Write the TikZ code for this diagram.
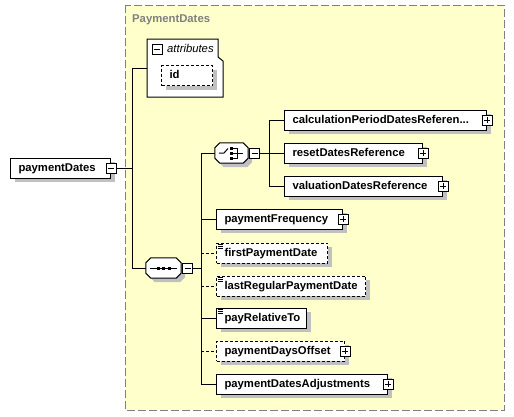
\documentclass[tikz,border=0pt]{standalone}
\usepackage{fontspec}
\setmainfont{Liberation Sans}
\usetikzlibrary{calc,shadows}
\definecolor{bgyellow}{HTML}{FFFFCC}
\definecolor{shgray}{HTML}{C0C0C0}
\definecolor{frgray}{HTML}{808080}
\tikzset{
  elem/.style={draw=black, fill=white, line width=1pt, anchor=west,
    minimum height=20pt, inner xsep=8pt, inner ysep=0pt,
    text height=8pt, text depth=2pt, align=left, text width=#1,
    font=\fontsize{11.3}{13}\selectfont\bfseries,
    general shadow={fill=shgray, shadow xshift=4pt, shadow yshift=-4pt}},
  optional/.style={dash pattern=on 3pt off 2pt},
  pm/.style={draw=black, fill=white, line width=1pt, minimum size=10pt, inner sep=0pt},
  minusbox/.style={pm, path picture={\draw[line width=1pt]
      ([xshift=-3pt]path picture bounding box.center) -- ([xshift=3pt]path picture bounding box.center);}},
  plusbox/.style={pm, path picture={\draw[line width=1pt]
      ([xshift=-3pt]path picture bounding box.center) -- ([xshift=3pt]path picture bounding box.center)
      ([yshift=-3pt]path picture bounding box.center) -- ([yshift=3pt]path picture bounding box.center);}},
  octo/.style={draw=none, minimum height=20pt, inner sep=0pt},
  conn/.style={line width=1pt, draw=black},
  icon/.style={line width=0.8pt},
}
% octagon outline around a named node, shifted by (#2,#3)
\newcommand\octpath[3]{%
  ($(#1.north west)+(5+#2,#3)$) -- ($(#1.north east)+(-5+#2,#3)$) --
  ($(#1.north east)+(#2,5+#3)$) -- ($(#1.south east)+(#2,-5+#3)$) --
  ($(#1.south east)+(-5+#2,#3)$) -- ($(#1.south west)+(5+#2,#3)$) --
  ($(#1.south west)+(#2,-5+#3)$) -- ($(#1.north west)+(#2,5+#3)$) -- cycle}
\begin{document}
\begin{tikzpicture}[x=1pt,y=-1pt]
\useasboundingbox (0,0) rectangle (514,416);
% outer group
\draw[fill=bgyellow, draw=frgray, line width=1pt, dash pattern=on 8pt off 3pt] (125,5) rectangle (504,410);
\node[anchor=base west, inner sep=0pt, text=frgray, font=\fontsize{11.3}{13}\selectfont\bfseries] (title) at (132,22.5) {PaymentDates};

% attributes box
\draw[fill=white, line width=1pt] (147,39) -- (218,39) -- (218,57) -- (223,61) -- (223,97) -- (147,97) -- cycle;
\coordinate (attr) at (147,68);
\node[minusbox] (attrM) at (157,49) {};
\node[anchor=base west, inner sep=0pt, font=\fontsize{11.3}{13}\selectfont\itshape] (attrT) at (167,52.5) {attributes};
\node[elem=35pt, optional, minimum height=20pt] (id) at (161,75.5) {\mbox{id}};

% root
\node[elem=84pt] (pd) at (10,168) {\mbox{paymentDates}};
\node[minusbox] (pdM) at (pd.east) {};

% choice
\node[octo, minimum width=33pt] (choice) at (231.5,153) {};
\fill[shgray] \octpath{choice}{4}{4};
\draw[fill=white, line width=1pt] \octpath{choice}{0}{0};
\node[minusbox, anchor=west] (chM) at ([xshift=1pt]choice.east) {};
\draw[line width=1pt] (219,153) -- (224,153) -- (228,148.5);
\fill (230,147) rectangle (232.5,149.5);
\fill (230,152) rectangle (232.5,154.5);
\fill (230,157) rectangle (232.5,159.5);
\draw[line width=1pt] (232.5,148.5) -- (237,148.5) -- (237,158) -- (232.5,158)
  (232.5,153) -- (243,153);

% sequence
\node[octo, minimum width=35pt] (seq) at (163.5,268) {};
\fill[shgray] \octpath{seq}{4}{4};
\draw[fill=white, line width=1pt] \octpath{seq}{0}{0};
\node[minusbox, anchor=west] (seqM) at ([xshift=1pt]seq.east) {};
\draw[line width=1pt] (150,268) -- (177,268);
\fill (156.5,266.5) rectangle (159.5,269.5);
\fill (162,266.5) rectangle (165,269.5);
\fill (167.5,266.5) rectangle (170.5,269.5);

% choice children
\node[elem=186pt] (calc) at (284,120) {\mbox{calculationPeriodDatesReferen...}};
\node[plusbox] (calcP) at (calc.east) {};
\node[elem=122pt] (reset) at (284,153) {\mbox{resetDatesReference}};
\node[plusbox] (resetP) at (reset.east) {};
\node[elem=142pt] (val) at (284,186) {\mbox{valuationDatesReference}};
\node[plusbox] (valP) at (val.east) {};

% sequence children
\node[elem=110pt] (pf) at (216,219) {\mbox{paymentFrequency}};
\node[plusbox] (pfP) at (pf.east) {};
\node[elem=95pt, optional] (fpd) at (216,253) {\mbox{firstPaymentDate}};
\node[elem=133pt, optional] (lrpd) at (216,286) {\mbox{lastRegularPaymentDate}};
\node[elem=74pt] (prt) at (216,318) {\mbox{payRelativeTo}};
\node[elem=112pt, optional] (pdo) at (216,351) {\mbox{paymentDaysOffset}};
\node[plusbox] (pdoP) at (pdo.east) {};
\node[elem=155pt] (pda) at (216,384) {\mbox{paymentDatesAdjustments}};
\node[plusbox] (pdaP) at (pda.east) {};

% simple-content icons
\foreach \n in {fpd,lrpd,prt}{
  \foreach \d in {2,4,6}{
    \draw[icon] ([xshift=1.5pt,yshift=-\d pt]\n.north west) -- +(5.5,0);
  }
}

% connectors
\coordinate (j1) at (132,168);
\coordinate (j2) at (201,268);
\coordinate (j3) at (269,153);
\draw[conn] (pdM.east) -- (j1);
\draw[conn] (attr) -| (j1);
\draw[conn] (j1) |- (seq.west);
\draw[conn] (seqM.east) -- (j2);
\draw[conn] (j2) |- (choice.west);
\draw[conn] (j2) |- (pda.west);
\draw[conn] (pf.west -| j2) -- (pf.west);
\draw[conn, optional] (fpd.west -| j2) -- (fpd.west);
\draw[conn, optional] (lrpd.west -| j2) -- (lrpd.west);
\draw[conn] (prt.west -| j2) -- (prt.west);
\draw[conn, optional] (pdo.west -| j2) -- (pdo.west);
\draw[conn] (chM.east) -- (j3);
\draw[conn] (j3) |- (calc.west);
\draw[conn] (j3) |- (val.west);
\draw[conn] (j3) -- (reset.west);
\end{tikzpicture}
\end{document}
